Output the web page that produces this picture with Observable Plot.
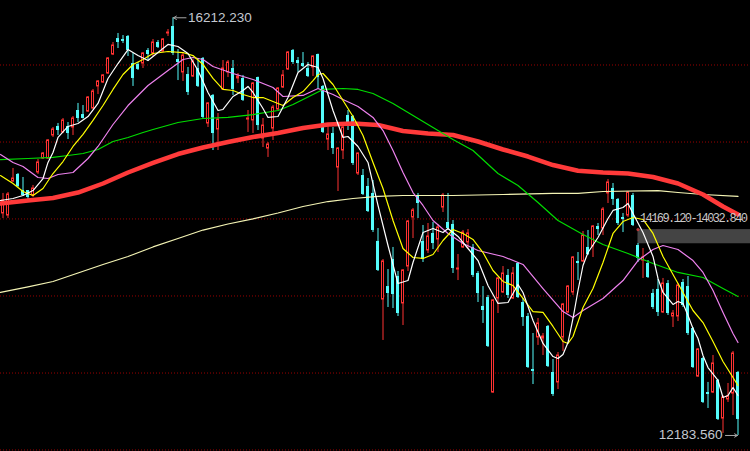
<!DOCTYPE html>
<html>
<head>
<meta charset="utf-8">
<script src="https://cdn.jsdelivr.net/npm/d3@7"></script>
<script src="https://cdn.jsdelivr.net/npm/@observablehq/plot@0.6"></script>
<style>
  html, body { margin: 0; padding: 0; background: #000; overflow: hidden; }
  svg { display: block; }
</style>
</head>
<body>
<script>
// ---- Candle data (daily OHLC) ----
const opens = [14325,14305,14633,14701,14546,14546,14498,14720,14855,14855,15077,15164,15106,15164,15154,15318,15279,15308,15337,15550,
15588,15675,15858,16012,16003,16032,15771,15762,15771,15897,15868,15974,15887,16061,16128,15810,15685,15665,15646,15723,
15820,15193,15463,15135,15521,15685,15723,15627,15627,15231,15222,15636,15048,14951,15144,15328,15540,15714,15897,15800,
15771,15723,15733,15858,15550,15038,15096,14768,14932,15270,15260,14710,14691,14585,14518,14055,13495,13620,13881,13717,
13457,13813,14286,14489,14055,13968,14132,14074,14382,14238,14219,13784,13997,14045,13997,13746,13428,13514,12598,13505,
13563,13727,13505,13842,13466,13331,12820,13129,13119,13235,12791,12695,13129,13370,13563,13862,13862,13997,14006,14199,
14180,14518,14566,14460,14286,14305,14498,14016,13871,13842,13553,13592,13370,13649,13331,13331,13659,13620,13215,12752,
12926,12598,12598,12714,12347,12531,12588,12791];
const closes = [14450,14508,14662,14585,14498,14479,14566,14817,14903,15029,15135,15125,15222,15096,15241,15241,15241,15443,15501,15598,
15656,15820,15945,15974,15984,15897,15627,15714,15868,15858,15974,15926,16003,16070,15868,15781,15848,15492,15791,15550,
15251,15386,15096,15231,15723,15781,15521,15646,15415,15241,15578,15173,15173,14990,15347,15530,15656,15877,15781,15771,
15742,15646,15839,15636,15106,15087,14951,14951,15154,15202,14807,14903,14508,14344,14161,13775,13862,13553,13543,13360,
13775,14247,14354,14421,13881,14103,14035,14190,14498,14180,13794,13794,14141,14132,13727,13553,13389,13042,13486,13698,
13746,13534,13746,13514,13321,12839,12801,13264,13138,12849,12579,12955,13447,13620,13900,13842,14112,13929,14199,14170,
14363,14624,14460,14228,14267,14527,14209,13891,13900,13707,13418,13370,13649,13360,13360,13630,13437,13167,12839,13013,
12502,12579,12878,12338,12550,12560,12974,12338];
const highs = [14518,14527,14759,14710,14672,14546,14595,14845,14913,15038,15154,15193,15241,15202,15260,15386,15366,15453,15521,15607,
15665,15829,15974,16061,16041,16041,15868,15781,15877,15916,16003,15993,16012,16099,16212.23,15906,15868,15733,15810,15820,
15829,15395,15472,15289,15800,15800,15800,15675,15656,15318,15588,15640,15241,15009,15366,15540,15704,15887,15906,15829,
15877,15781,15845,15862,15559,15193,15154,14961,15164,15318,15270,14910,14749,14662,14643,14180,13881,13784,13997,13765,
13784,14257,14373,14518,14209,14228,14238,14219,14518,14518,14257,13929,14161,14170,14026,13765,13620,13534,13495,13707,
13813,13784,13804,13852,13505,13360,13167,13312,13167,13244,12916,12984,13457,13630,13910,13948,14151,14161,14209,14228,
14382,14652,14614,14469,14325,14537,14518,14035,13987,13871,13592,13688,13698,13678,13389,13649,13688,13717,13225,13022,
12936,12695,12955,12724,12569,12685,12994,12801];
const lows = [14276,14276,14624,14575,14489,14460,14479,14701,14845,14845,15058,15077,15096,15038,15077,15202,15236,15299,15328,15472,
15578,15665,15848,15916,15964,15839,15550,15704,15723,15791,15839,15916,15877,16032,15848,15607,15598,15463,15636,15540,
15241,15154,14932,14932,15511,15636,15463,15578,15405,15106,15096,15125,14961,14865,15029,15318,15530,15704,15762,15685,
15733,15636,15646,15530,15096,14932,14894,14537,14845,15125,14788,14691,14498,14334,14141,13765,13100,13418,13408,13331,
13244,13765,14083,14276,13852,13939,13977,13948,14334,14161,13746,13678,13987,13987,13707,13466,13264,13032,12590,13360,
13553,13505,13495,13505,13235,12830,12675,13052,12955,12839,12560,12627,12994,13360,13534,13678,13852,13920,13900,14112,
14112,14421,14402,14209,14141,14286,14199,13852,13698,13698,13399,13331,13360,13341,13225,13283,13418,13148,12830,12743,
12492,12444,12588,12328,12203,12502,12376,12183.56];

// ---- Moving averages: [candle index, value] ----
const ma5 = [[-0.5,14450],[2,14469],[4,14498],[6,14546],[8,14662],[9,14817],[10,14913],[11,15058],[13,15164],[15,15193],[17,15260],[19,15386],
[21,15627],[23,15771],[25,15906],[27,15848],[29,15800],[31,15877],[33,15955],[35,15935],[37,15868],[39,15704],[41,15492],[43,15318],[44,15328],
[46,15453],[48,15511],[49,15550],[50,15492],[52,15337],[53,15251],[55,15260],[57,15443],[59,15685],[61,15762],[63,15733],[64,15627],[66,15318],
[68,15058],[69,15067],[71,14971],[73,14817],[75,14402],[77,14016],[79,13649],[81,13678],[82,13852],[84,14141],[86,14180],[88,14141],[89,14180],
[91,14103],[93,13987],[95,13871],[97,13630],[99,13457],[101,13466],[102,13553],[103,13640],[104,13563],[106,13293],[108,13071],[110,12945],
[111,12926],[112,12965],[113,13080],[114,13312],[115,13582],[116,13823],[117,13948],[119,14093],[121,14276],[122,14354],[124,14382],[125,14421],
[126,14325],[128,14141],[130,13910],[131,13698],[132,13563],[134,13447],[135,13476],[136,13457],[137,13341],[138,13216],[139,13119],[140,12955],
[141,12839],[143,12714],[144,12550],[145,12569],[146,12646],[147,12569]];
const ma10 = [[-0.5,14691],[2,14614],[4,14537],[6,14498],[8,14566],[10,14710],[12,14826],[14,14971],[16,15087],[18,15222],[20,15366],[22,15521],
[24,15665],[26,15762],[28,15810],[30,15868],[33,15887],[36,15877],[38,15848],[40,15762],[42,15627],[44,15521],[46,15511],[48,15472],[50,15443],
[52,15443],[54,15405],[56,15366],[58,15443],[60,15501],[62,15607],[63,15665],[64,15675],[66,15569],[68,15415],[70,15260],[72,15077],[74,14817],
[76,14566],[78,14257],[80,13987],[82,13900],[84,13891],[86,13929],[88,14064],[90,14170],[92,14132],[94,14074],[96,13948],[98,13775],[100,13669],
[102,13630],[104,13505],[106,13379],[108,13370],[110,13235],[112,13090],[113,13071],[114,13138],[116,13418],[118,13601],[120,13852],[122,14132],
[124,14247],[126,14286],[128,14267],[130,14132],[132,13910],[134,13736],[136,13563],[138,13389],[140,13273],[142,13090],[144,12897],[146,12743],[147,12666]];
const ma20 = [[-0.5,14894],[2,14817],[4,14778],[7,14672],[9,14662],[11,14701],[14,14720],[17,14855],[19,14971],[22,15183],[25,15366],[29,15559],
[33,15704],[36,15810],[38,15829],[40,15810],[42,15742],[46,15675],[50,15617],[54,15540],[56,15453],[60,15463],[63,15530],[66,15472],[68,15424],
[71,15357],[74,15251],[76,15125],[78,14932],[80,14720],[82,14527],[84,14402],[86,14257],[89,14132],[92,14035],[95,13968],[100,13910],[104,13833],
[108,13601],[112,13379],[114,13321],[116,13389],[120,13505],[124,13678],[127,13871],[130,13977],[132,14016],[135,13977],[138,13871],[140,13756],
[142,13582],[144,13370],[146,13167],[147,13080]];
const ma60 = [[-0.5,14845],[5,14855],[10,14865],[13,14884],[16,14903],[19,14942],[22,15019],[25,15058],[28,15106],[30,15135],[35,15202],[40,15241],
[45,15251],[50,15279],[55,15318],[58,15376],[60,15424],[64,15521],[68,15530],[71,15521],[74,15482],[78,15386],[82,15270],[86,15154],[90,15038],
[94,14932],[99,14710],[103,14595],[107,14431],[111,14257],[116,14122],[120,14026],[125,13939],[130,13842],[135,13756],[140,13707],[144,13601],[147,13524]];
const ma120 = [[-0.5,14421],[5,14450],[10,14474],[15,14527],[20,14614],[25,14720],[30,14812],[35,14898],[40,14961],[45,15014],[50,15062],[55,15101],
[60,15149],[65,15183],[70,15193],[75,15178],[80,15120],[85,15096],[90,15082],[95,15019],[100,14942],[105,14874],[110,14792],[115,14737],[120,14720],
[125,14710],[130,14677],[135,14614],[140,14508],[144,14392],[147,14315]];
const ma250 = [[-0.5,13563],[5,13616],[10,13669],[15,13751],[20,13833],[25,13910],[30,14002],[35,14083],[40,14165],[45,14223],[50,14272],[55,14329],
[60,14392],[65,14440],[70,14469],[75,14489],[80,14498],[90,14498],[100,14508],[110,14518],[115,14518],[120,14537],[131,14546],[135,14527],[140,14508],[147,14489]];

// ---- Grid levels and annotation values ----
const gridLevels = [15757, 15014, 14272, 13529, 12786, 12044];
const rangeStart = 127;
const rangeValues = [14169.12, 14032.84];

const yDomain = [12029, 16379];
const xDomain = [-0.5, 149.5];

const UP = "#ff3232", DOWN = "#54fcfc";
const candles = opens.map((o, k) => ({i: k, o, c: closes[k], h: highs[k], l: lows[k]}));
const up = candles.filter(d => d.c >= d.o);
const down = candles.filter(d => d.c < d.o);
const hiIdx = d3.maxIndex(highs), loIdx = d3.minIndex(lows);
const hi = {i: hiIdx, v: highs[hiIdx]}, lo = {i: loIdx, v: lows[loIdx]};

const maLine = (data, stroke, w) => Plot.line(data, {x: d => d[0], y: d => d[1], stroke, strokeWidth: w, curve: "linear"});

const chart = Plot.plot({
  width: 750, height: 451,
  marginTop: 0, marginRight: 0, marginBottom: 0, marginLeft: 0,
  x: {domain: xDomain, axis: null},
  y: {domain: yDomain, axis: null},
  style: {background: "#000", overflow: "hidden"},
  marks: [
    Plot.ruleY(gridLevels, {stroke: "#9a0000", strokeWidth: 1, strokeDasharray: "1,2"}),
    Plot.rect([{a: rangeValues[0], b: rangeValues[1]}], {x1: rangeStart, x2: xDomain[1], y1: "a", y2: "b", fill: "#444444"}),
    // down candles
    Plot.ruleX(down, {x: "i", y1: "l", y2: "h", stroke: DOWN, strokeWidth: 1}),
    Plot.rect(down, {x1: d => d.i - 0.3, x2: d => d.i + 0.3, y1: "o", y2: "c", fill: DOWN}),
    // up candles (hollow)
    Plot.ruleX(up, {x: "i", y1: "c", y2: "h", stroke: UP, strokeWidth: 1}),
    Plot.ruleX(up, {x: "i", y1: "l", y2: "o", stroke: UP, strokeWidth: 1}),
    Plot.rect(up, {x1: d => d.i - 0.2, x2: d => d.i + 0.2, y1: "o", y2: "c", fill: "#000", stroke: UP, strokeWidth: 1}),
    // moving averages
    maLine(ma250, "#f4f4b4", 1.2),
    maLine(ma120, "#ff3a3a", 4.5),
    maLine(ma60, "#00dd00", 1.2),
    maLine(ma20, "#ee82ee", 1.2),
    maLine(ma10, "#ffff00", 1.2),
    maLine(ma5, "#ffffff", 1.2),
    // range marker
    Plot.dot([{v: rangeValues[0]}], {x: rangeStart, y: "v", r: 1.6, fill: "#b83a3a"}),
    Plot.text([rangeValues], {x: rangeStart, y: rangeValues[0], text: d => d[0].toFixed(3) + "-" + d[1].toFixed(3),
      textAnchor: "start", dx: 2, dy: -11, fill: "#c8c8c8", fontSize: 12, fontFamily: "Liberation Mono"}),
    // high / low labels
    Plot.arrow([hi], {x1: d => d.i + 2.6, x2: d => d.i + 0.1, y1: "v", y2: "v", stroke: "#a8a8a8", strokeWidth: 1, headLength: 5}),
    Plot.text([hi], {x: d => d.i + 2.6, y: "v", text: d => d.v.toFixed(3), textAnchor: "start", dx: 2, dy: 0,
      fill: "#c4c8d0", fontSize: 13.5, fontFamily: "Liberation Sans"}),
    Plot.arrow([lo], {x1: d => d.i - 2.5, x2: d => d.i - 0.1, y1: "v", y2: "v", stroke: "#a8a8a8", strokeWidth: 1, headLength: 5}),
    Plot.text([lo], {x: d => d.i - 2.5, y: "v", text: d => d.v.toFixed(3), textAnchor: "end", dx: -3, dy: -1,
      fill: "#c4c8d0", fontSize: 13.5, fontFamily: "Liberation Sans"})
  ]
});
document.body.appendChild(chart);
d3.select(chart).selectAll("text").filter(function() { return (this.textContent || "").includes("-"); })
  .attr("letter-spacing", "-1.6px");
</script>
</body>
</html>
